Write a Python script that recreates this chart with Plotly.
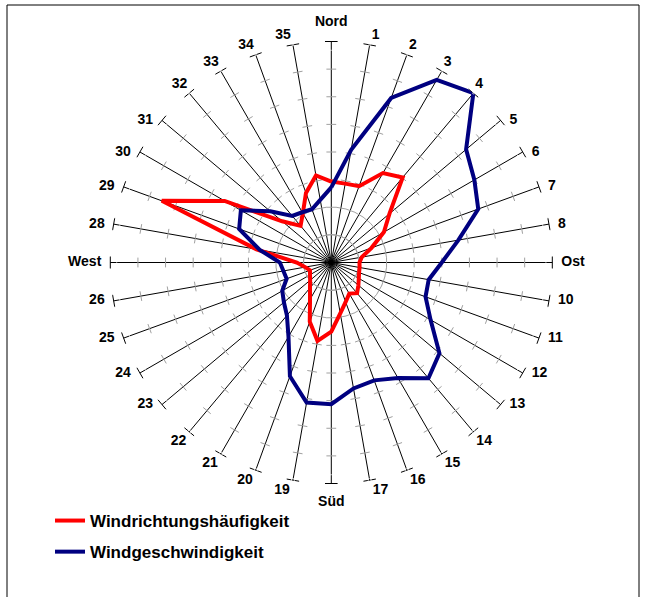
import numpy as np
import plotly.graph_objects as go

# ---- data ----
directions = ["Nord", "1", "2", "3", "4", "5", "6", "7", "8", "Ost",
              "10", "11", "12", "13", "14", "15", "16", "17", "Süd",
              "19", "20", "21", "22", "23", "24", "25", "26", "West",
              "28", "29", "30", "31", "32", "33", "34", "35"]
angles = [i * 10 for i in range(36)]

windrichtung = [2.93, 2.90, 2.94, 3.74, 4.02, 2.75, 2.20, 1.55, 1.12, 1.02,
                1.04, 1.07, 1.15, 1.28, 1.45, 1.30, 1.52, 1.87, 2.50,
                2.88, 2.28, 1.54, 1.20, 1.00, 0.89, 0.82, 0.96, 1.25,
                2.75, 6.53, 4.46, 2.32, 1.73, 2.06, 2.68, 3.20]

windgeschw = [2.72, 4.14, 6.34, 7.63, 8.00, 6.37, 5.98, 5.66, 4.67, 4.00,
              3.58, 3.63, 4.15, 5.11, 5.47, 4.83, 4.54, 4.63, 5.13,
              5.15, 4.38, 3.10, 2.50, 2.24, 2.05, 1.72, 1.76, 1.86,
              2.63, 3.55, 3.78, 2.88, 2.20, 2.10, 2.05, 2.30]

r_max = 8
minor_ticks = list(range(1, r_max))

W, H = 648, 597
cx, cy, R = 331.3, 262.5, 221.0


def label_style(a):
    """text position and spacer size for a spoke label (Excel-like placement)"""
    if a == 0:
        return "top center", 17.6
    if a == 180:
        return "bottom center", 17.6
    if 10 <= a <= 40:
        return "top right", 1.6
    if 320 <= a <= 350:
        return "top left", 1.6
    if 140 <= a <= 170:
        return "bottom right", 3.2
    if 190 <= a <= 220:
        return "bottom left", 3.2
    if 50 <= a <= 130:
        return "middle right", 12.8
    return "middle left", 12.8


styles = [label_style(a) for a in angles]

fig = go.Figure()

# tick marks on every spoke (derived from axis ticks and spoke angles)
tr, tt = np.meshgrid(minor_ticks, angles)
fig.add_trace(go.Scatterpolar(
    r=tr.ravel(), theta=tt.ravel(), mode="markers",
    marker=dict(symbol="line-ew", size=7, angle=tt.ravel(),
                line=dict(color="#a0a0a0", width=1)),
    showlegend=False, hoverinfo="skip"))
fig.add_trace(go.Scatterpolar(
    r=[r_max] * len(angles), theta=angles, mode="markers",
    marker=dict(symbol="line-ew", size=9, angle=angles,
                line=dict(color="black", width=1)),
    showlegend=False, hoverinfo="skip"))

fig.add_trace(go.Scatterpolar(
    r=windrichtung + windrichtung[:1], theta=angles + angles[:1],
    mode="lines", name="Windrichtungshäufigkeit",
    line=dict(color="#FF0000", width=4), legendgroup="a"))
fig.add_trace(go.Scatterpolar(
    r=windgeschw + windgeschw[:1], theta=angles + angles[:1],
    mode="lines", name="Windgeschwindigkeit",
    line=dict(color="#000080", width=4), legendgroup="b"))

font = dict(family="Liberation Sans, Arial, sans-serif", size=14,
            color="black", weight="bold")
legend_font = dict(family="Liberation Sans, Arial, sans-serif", size=17,
                   color="black", weight="bold")

# spoke labels at the end of each spoke
fig.add_trace(go.Scatterpolar(
    r=[r_max] * len(angles), theta=angles, mode="markers+text",
    text=directions, textposition=[s[0] for s in styles], textfont=font,
    marker=dict(size=[s[1] for s in styles], color="rgba(0,0,0,0)"),
    cliponaxis=False, showlegend=False, hoverinfo="skip"))

fig.update_layout(
    width=W, height=H,
    margin=dict(l=0, r=0, t=0, b=0, autoexpand=False),
    paper_bgcolor="white", plot_bgcolor="white",
    polar=dict(
        domain=dict(x=[(cx - R) / W, (cx + R) / W],
                    y=[1 - (cy + R) / H, 1 - (cy - R) / H]),
        bgcolor="rgba(0,0,0,0)",
        angularaxis=dict(
            rotation=90, direction="clockwise", thetaunit="degrees",
            tickmode="array", tickvals=angles, ticktext=directions,
            showgrid=True, gridcolor="black", gridwidth=1,
            showline=False, ticks="", showticklabels=False),
        radialaxis=dict(range=[0, r_max], showgrid=False, showline=False,
                        showticklabels=False, ticks=""),
    ),
    legend=dict(x=50 / W, y=1 - 503 / H, xanchor="left", yanchor="top",
                font=legend_font, bgcolor="rgba(0,0,0,0)", itemwidth=30,
                traceorder="grouped", tracegroupgap=6),
    shapes=[dict(type="rect", xref="paper", yref="paper",
                 x0=7 / W, x1=639 / W, y0=-0.02, y1=1 - 5 / H,
                 line=dict(color="black", width=1))],
)

fig.write_html("out.html", config={"displayModeBar": False},
               post_script="document.body.style.margin='0';document.body.style.padding='0';")
